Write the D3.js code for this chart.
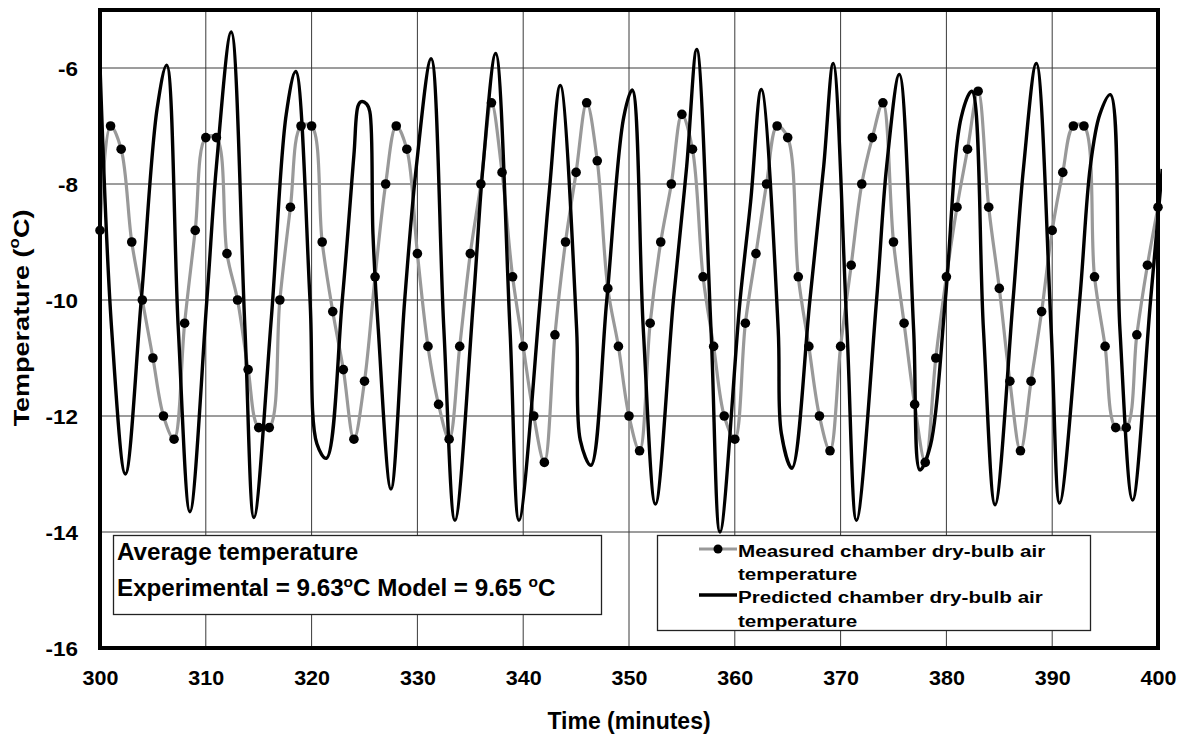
<!DOCTYPE html>
<html><head><meta charset="utf-8">
<script src="https://cdn.jsdelivr.net/npm/d3@7"></script>
<style>body{margin:0;background:#fff}svg text{font-family:"Liberation Sans",Arial,sans-serif;font-weight:bold;fill:#000}</style>
</head><body><svg id="c" width="1187" height="747"></svg>
<script>
// Measured chamber dry-bulb air temperature, one reading per minute, 300..400
const measuredTime = d3.range(300, 401, 1);
const measuredTemp = [
-8.8,-7.0,-7.4,-9.0,-10.0,-11.0,-12.0,-12.4,-10.4,-8.8,
-7.2,-7.2,-9.2,-10.0,-11.2,-12.2,-12.2,-10.0,-8.4,-7.0,
-7.0,-9.0,-10.2,-11.2,-12.4,-11.4,-9.6,-8.0,-7.0,-7.4,
-9.2,-10.8,-11.8,-12.4,-10.8,-9.2,-8.0,-6.6,-7.8,-9.6,
-10.8,-12.0,-12.8,-10.6,-9.0,-7.8,-6.6,-7.6,-9.8,-10.8,
-12.0,-12.6,-10.4,-9.0,-8.0,-6.8,-7.4,-9.6,-10.8,-12.0,
-12.4,-10.4,-9.2,-8.0,-7.0,-7.2,-9.6,-10.8,-12.0,-12.6,
-10.8,-9.4,-8.0,-7.2,-6.6,-9.0,-10.4,-11.8,-12.8,-11.0,
-9.6,-8.4,-7.4,-6.4,-8.4,-9.8,-11.4,-12.6,-11.4,-10.2,
-8.8,-7.8,-7.0,-7.0,-9.6,-10.8,-12.2,-12.2,-10.6,-9.4,
-8.4];
// Predicted chamber dry-bulb air temperature (model), read at turning points and crossings
const predictedTime = [300.0,301.1,302.4,303.9,305.4,306.3,307.4,308.5,310.1,311.0,312.4,313.7,314.55,316.2,317.6,318.5,319.85,320.5,321.4,322.9,324.0,324.4,324.7,325.2,325.5,325.8,326.3,327.5,328.8,329.9,331.3,332.5,333.55,335.3,336.2,337.4,338.75,339.6,341.6,342.5,343.5,345.05,345.4,346.4,347.9,349.5,350.3,351.35,352.5,354.2,355.45,356.4,357.75,358.6,360.5,361.5,362.5,364.1,364.4,365.4,367.1,368.4,369.3,370.6,371.5,373.4,374.35,375.55,376.9,377.5,378.5,379.9,381.4,382.4,383.5,384.6,386.3,387.3,388.5,389.9,390.7,392.6,393.6,394.5,395.5,396.4,397.6,399.3,400.4];
const predictedTemp = [-5.95,-10.5,-13.0,-10.0,-6.7,-5.95,-10.5,-13.65,-10.0,-7.7,-5.38,-10.5,-13.75,-10.3,-6.8,-6.06,-10.0,-12.48,-12.73,-10.0,-7.5,-6.65,-6.58,-6.62,-6.75,-8.86,-10.5,-13.26,-10.0,-7.7,-5.84,-10.5,-13.8,-10.0,-7.7,-5.75,-10.5,-13.8,-10.0,-8.06,-6.3,-10.5,-12.42,-12.85,-10.0,-6.85,-6.38,-10.5,-13.52,-10.0,-7.7,-5.68,-10.5,-14.0,-10.0,-8.3,-6.37,-10.5,-12.3,-12.9,-10.0,-7.7,-5.92,-10.5,-13.8,-10.0,-7.7,-6.11,-10.5,-12.93,-12.5,-10.0,-6.85,-6.4,-10.5,-13.53,-10.0,-7.7,-5.92,-10.5,-13.5,-10.0,-7.7,-6.8,-6.46,-10.5,-13.45,-10.0,-7.74];
const xTicks = [300,310,320,330,340,350,360,370,380,390,400];
const yTicks = [-6,-8,-10,-12,-14,-16];
const legendLabels = ["Measured chamber dry-bulb air","temperature","Predicted chamber dry-bulb air","temperature"];

const svg = d3.select("#c");
const L=100,R=1158,T=10,B=648;
const x = d3.scaleLinear().domain([300,400]).range([L,R]);
const y = d3.scaleLinear().domain([-16,-5]).range([B,T]);

// grid
svg.append("g").selectAll("line").data(xTicks.slice(1,-1)).join("line")
  .attr("x1",d=>x(d)).attr("x2",d=>x(d)).attr("y1",T).attr("y2",B)
  .attr("stroke","#3a3a3a").attr("stroke-width",1);
svg.append("g").selectAll("line").data(yTicks.slice(0,-1)).join("line")
  .attr("x1",L).attr("x2",R).attr("y1",d=>y(d)).attr("y2",d=>y(d))
  .attr("stroke","#3a3a3a").attr("stroke-width",1);

// axes tick labels via d3 axes
const sx = 1.05;
const xAxis = svg.append("g").attr("transform",`translate(0,${B})`)
  .call(d3.axisBottom(x).tickValues(xTicks).tickSize(0).tickFormat(d=>String(d)));
xAxis.select(".domain").remove();
xAxis.selectAll("text").attr("font-size",20.5).attr("y",37).attr("dy",0)
  .attr("transform",`scale(${sx},1)`);
const sy = 1.07;
const yAxis = svg.append("g").attr("transform",`translate(${L},0)`)
  .call(d3.axisLeft(y).tickValues(yTicks).tickSize(0).tickFormat(d=>String(d)));
yAxis.select(".domain").remove();
yAxis.selectAll("text").attr("font-size",21).attr("x",-22/sy).attr("dy","0.35em")
  .attr("transform",`scale(${sy},1)`);

// series
const meas = measuredTime.map((t,i)=>[t,measuredTemp[i]]);
const pred = predictedTime.map((t,i)=>[t,predictedTemp[i]]);
svg.append("defs").append("clipPath").attr("id","clip").append("rect")
  .attr("x",L-4).attr("y",T).attr("width",R-L+8).attr("height",B-T);
const line = d3.line().x(d=>x(d[0])).y(d=>y(d[1])).curve(d3.curveCatmullRom.alpha(0.5));
svg.append("path").datum(meas).attr("d",line).attr("fill","none")
  .attr("stroke","#999").attr("stroke-width",3.2).attr("clip-path","url(#clip)");
svg.append("g").selectAll("circle").data(meas).join("circle")
  .attr("cx",d=>x(d[0])).attr("cy",d=>y(d[1])).attr("r",4.8).attr("fill","#000");
svg.append("path").datum(pred).attr("d",line).attr("fill","none")
  .attr("stroke","#000").attr("stroke-width",3.4).attr("stroke-linejoin","round").attr("clip-path","url(#clip)");

// frame
svg.append("rect").attr("x",L).attr("y",T).attr("width",R-L).attr("height",B-T)
  .attr("fill","none").attr("stroke","#000").attr("stroke-width",4);

// info box
svg.append("rect").attr("x",113.5).attr("y",535.5).attr("width",488).attr("height",79)
  .attr("fill","#fff").attr("stroke","#222").attr("stroke-width",1.3);
const ib = svg.append("g").attr("transform","translate(117,0) scale(1.03,1)");
ib.append("text").attr("x",0).attr("y",560).attr("font-size",23.5).text("Average temperature");
const t2 = ib.append("text").attr("x",0).attr("y",596).attr("font-size",23.5);
t2.append("tspan").text("Experimental = 9.63");
t2.append("tspan").attr("font-size",15).attr("dy",-9).text("o");
t2.append("tspan").attr("dy",9).text("C Model = 9.65 ");
t2.append("tspan").attr("font-size",15).attr("dy",-9).text("o");
t2.append("tspan").attr("dy",9).text("C");

// legend
svg.append("rect").attr("x",657.5).attr("y",535.5).attr("width",433).attr("height",95)
  .attr("fill","#fff").attr("stroke","#222").attr("stroke-width",1.3);
svg.append("line").attr("x1",699).attr("x2",737).attr("y1",549).attr("y2",549)
  .attr("stroke","#999").attr("stroke-width",3.2);
svg.append("circle").attr("cx",718).attr("cy",549).attr("r",4.5).attr("fill","#000");
svg.append("line").attr("x1",699).attr("x2",737).attr("y1",595).attr("y2",595)
  .attr("stroke","#000").attr("stroke-width",3.4);
const lg = svg.append("g").attr("transform","translate(738,0) scale(1.2,1)");
lg.selectAll("text").data(legendLabels).join("text")
  .attr("x",0).attr("y",(d,i)=>556.7+i*23.3).attr("font-size",17.2).text(d=>d);

// axis titles
svg.append("text").attr("x",629).attr("y",729).attr("text-anchor","middle").attr("font-size",23).text("Time (minutes)");
const yt = svg.append("text").attr("transform","translate(29,318) rotate(-90) scale(1.2,1)").attr("text-anchor","middle").attr("font-size",22.5);
yt.append("tspan").text("Temperature (");
yt.append("tspan").attr("font-size",14).attr("dy",-10).text("o");
yt.append("tspan").attr("dy",10).text("C)");
</script></body></html>
